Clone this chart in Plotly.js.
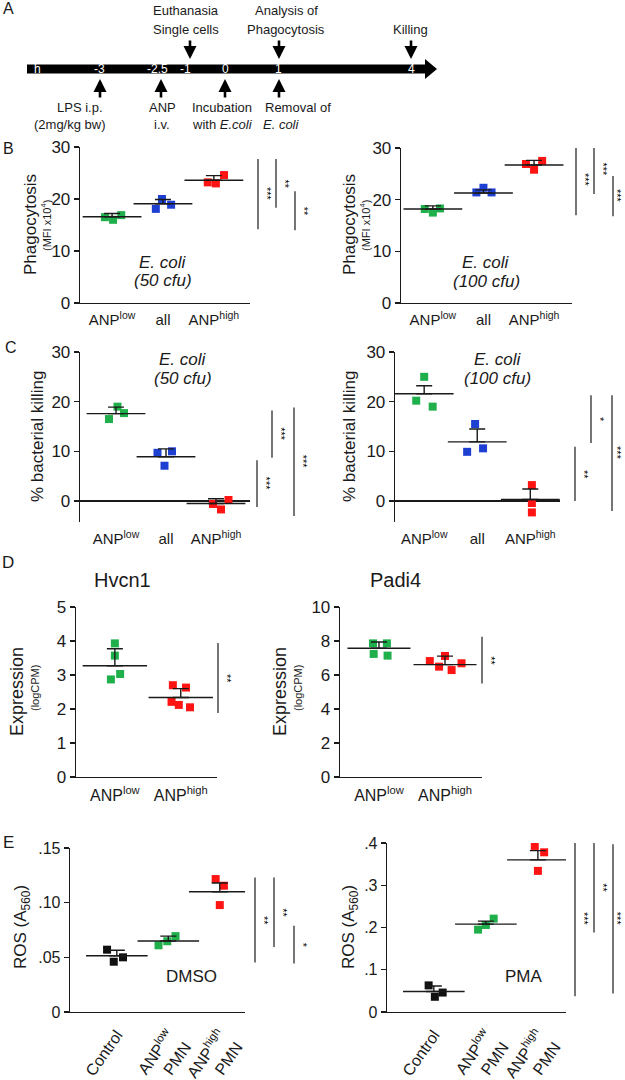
<!DOCTYPE html>
<html>
<head>
<meta charset="utf-8">
<script src="https://cdn.plot.ly/plotly-3.0.1.min.js"></script>
<style>
  html, body { margin: 0; padding: 0; background: #fff; }
  #fig { width: 625px; height: 1080px; }
</style>
</head>
<body>
<div id="fig"></div>
<script>
// ---------- data ----------
const catsB = ['ANP<sup>low</sup>', 'all', 'ANP<sup>high</sup>'];
const catsD = ['ANP<sup>low</sup>', 'ANP<sup>high</sup>'];
const catsE = ['Control', 'ANP<sup>low</sup><br>PMN', 'ANP<sup>high</sup><br>PMN'];

// B: phagocytosis (MFI x10^4)
const phago50     = [[16.5, 16.0, 16.9], [18.1, 20.0, 18.9], [23.2, 23.0, 24.6]];
const phago50Jit  = [[-0.14, 0.02, 0.18], [-0.14, -0.02, 0.16], [-0.12, 0.04, 0.2]];
const phago50Mean = [16.6, 19.1, 23.6];
const phago50Sem  = [0.6, 0.8, 0.9];

const phago100     = [[18.2, 17.5, 18.3], [21.4, 22.3, 21.4], [26.9, 25.8, 27.5]];
const phago100Jit  = [[-0.16, 0, 0.14], [-0.14, 0, 0.16], [-0.16, 0, 0.16]];
const phago100Mean = [18.2, 21.3, 26.7];
const phago100Sem  = [0.6, 0.6, 0.9];

// C: % bacterial killing
const kill50     = [[16.5, 19.0, 17.7], [9.7, 10.0, 7.1], [-0.6, -1.7, 0.2]];
const kill50Jit  = [[-0.14, 0.03, 0.16], [-0.17, 0.12, -0.03], [-0.06, 0.1, 0.25]];
const kill50Mean = [17.6, 8.9, -0.5];
const kill50Sem  = [1.3, 1.6, 0.95];

const kill100     = [[25.0, 20.2, 19.0], [15.5, 9.9, 10.6], [3.2, -0.4, -2.3]];
const kill100Jit  = [[0, -0.15, 0.16], [-0.04, -0.19, 0.11], [0.03, 0.03, 0.03]];
const kill100Mean = [21.6, 11.9, 0.3];
const kill100Sem  = [1.6, 2.6, 2.1];

// D: expression (logCPM)
const hvcn1     = [[3.93, 3.57, 3.03, 2.87], [2.70, 2.63, 2.21, 2.12, 2.05]];
const hvcn1Jit  = [[0, 0, 0.08, -0.06], [-0.12, 0.08, -0.14, -0.03, 0.14]];
const hvcn1Mean = [3.27, 2.34];
const hvcn1Sem  = [0.5, 0.26];

const padi4     = [[7.86, 7.86, 7.24, 7.14], [6.82, 6.49, 7.12, 6.29, 6.69]];
const padi4Jit  = [[-0.09, 0.12, -0.08, 0.13], [-0.23, -0.09, 0, 0.1, 0.25]];
const padi4Mean = [7.57, 6.61];
const padi4Sem  = [0.37, 0.5];

// E: ROS (A560)
const rosDmso     = [[0.057, 0.046, 0.050], [0.061, 0.0647, 0.0694], [0.1216, 0.1155, 0.0978]];
const rosDmsoJit  = [[-0.19, -0.06, 0.12], [-0.19, -0.02, 0.14], [-0.08, 0.08, 0]];
const rosDmsoMean = [0.0515, 0.065, 0.110];
const rosDmsoSem  = [0.005, 0.0044, 0.008];

const rosPma     = [[0.063, 0.036, 0.046], [0.195, 0.206, 0.221], [0.393, 0.378, 0.334]];
const rosPmaJit  = [[-0.1, 0.02, 0.17], [-0.15, 0, 0.15], [-0.06, 0.12, 0]];
const rosPmaMean = [0.0485, 0.208, 0.36];
const rosPmaSem  = [0.013, 0.007, 0.022];

// significance brackets: low end, high end, stars
const sigPhago50Lo  = [14.2, 18.3, 14.0],   sigPhago50Hi  = [27.7, 27.7, 21.5],  sigPhago50Txt  = ['***', '**', '**'];
const sigPhago100Lo = [17.0, 21.1, 16.8],   sigPhago100Hi = [30.6, 30.6, 24.6],  sigPhago100Txt = ['***', '***', '***'];
const sigKill50Lo   = [-1.2, 8.7, -3.0],    sigKill50Hi   = [8.2, 18.2, 18.8],   sigKill50Txt   = ['***', '***', '***'];
const sigKill100Lo  = [0, 11.7, -2.0],      sigKill100Hi  = [10.9, 21.3, 21.3],  sigKill100Txt  = ['**', '*', '***'];
const sigHvcn1Lo    = [1.88],               sigHvcn1Hi    = [3.94],              sigHvcn1Txt    = ['**'];
const sigPadi4Lo    = [5.5],                sigPadi4Hi    = [8.25],              sigPadi4Txt    = ['**'];
const sigDmsoLo     = [0.0453, 0.0594, 0.0444], sigDmsoHi = [0.123, 0.123, 0.0788], sigDmsoTxt = ['**', '**', '*'];
const sigPmaLo      = [0.037, 0.188, 0.044],    sigPmaHi  = [0.403, 0.403, 0.397],  sigPmaTxt  = ['***', '**', '***'];

// timeline (panel A)
const tlTicks  = ['h', '-3', '-2.5', '-1', '0', '1', '4'];
const tlAbove  = ['Euthanasia<br>Single cells', 'Analysis of<br>Phagocytosis', 'Killing'];
const tlBelow  = ['LPS i.p.<br>(2mg/kg bw)', 'ANP<br>i.v.', 'Incubation<br>with <i>E.coli</i>', 'Removal of<br><i>E. coli</i>'];

// ---------- helpers ----------
const W = 625, H = 1080;
const px = x => x / W;
const py = y => 1 - y / H;
const FONT = 'Liberation Sans, Arial, sans-serif';
const INK = '#1a1a1a';
const GREEN = '#1fb04b', BLUE = '#1d3fd2', RED = '#ff1414', BLACK = '#111111';

const traces = [];
const shapes = [];
const annotations = [];
const layout = {
  width: W, height: H,
  margin: { l: 0, r: 0, t: 0, b: 0 },
  paper_bgcolor: '#fff', plot_bgcolor: 'rgba(0,0,0,0)',
  font: { family: FONT, color: INK },
  showlegend: false,
  shapes, annotations,
};

function txt(text, x, y, size, extra) {
  annotations.push(Object.assign({
    text, x: px(x), y: py(y), xref: 'paper', yref: 'paper',
    xanchor: 'center', yanchor: 'middle',
    showarrow: false, font: { size, family: FONT, color: INK },
  }, extra || {}));
}

function panel(p) {
  const n = p.n;
  const xk = n === 1 ? 'xaxis' : 'xaxis' + n;
  const yk = n === 1 ? 'yaxis' : 'yaxis' + n;
  const xr = n === 1 ? 'x' : 'x' + n;
  const yr = n === 1 ? 'y' : 'y' + n;

  layout[xk] = {
    domain: [px(p.box[0]), px(p.box[1])], range: p.xrange, anchor: yr,
    tickvals: p.cats.map((c, i) => i), ticktext: p.cats,
    showline: !p.zeroAxis, linecolor: INK, linewidth: 1.3,
    ticks: 'outside', ticklen: p.xticklen || 3, tickcolor: 'rgba(0,0,0,0)',
    tickangle: p.tickangle || 0,
    tickfont: { size: p.xtfont || 15, family: FONT, color: INK },
    showgrid: false, zeroline: false, fixedrange: true,
  };
  layout[yk] = {
    domain: [py(p.box[3]), py(p.box[2])], range: p.yrange, anchor: xr,
    tickvals: p.ytickvals, ticktext: p.yticktext,
    showline: true, linecolor: INK, linewidth: 1.3,
    ticks: 'outside', ticklen: 5, tickwidth: 1.3, tickcolor: INK,
    tickfont: { size: p.ytfont || 17, family: FONT, color: INK },
    showgrid: false, fixedrange: true,
    zeroline: !!p.zeroAxis, zerolinecolor: INK, zerolinewidth: 1.3,
  };

  p.vals.forEach((vals, g) => {
    traces.push({
      type: 'scatter', mode: 'markers', xaxis: xr, yaxis: yr,
      x: p.jit[g].map(o => g + o), y: vals,
      marker: { symbol: 'square', size: 8, color: p.colors[g] },
      hoverinfo: 'y',
    });
  });
  traces.push({
    type: 'scatter', mode: 'markers', xaxis: xr, yaxis: yr,
    x: p.mean.map((m, i) => i), y: p.mean,
    marker: { symbol: 'line-ew', size: p.meanW || 42, color: INK, line: { color: INK, width: 1.4 } },
    error_y: { type: 'data', symmetric: false, array: p.sem, arrayminus: p.sem.map(() => 0),
               color: INK, thickness: 1.4, width: 8 },
    hoverinfo: 'y',
  });

  p.sigLo.forEach((lo, i) => {
    const sx = p.sigX[i];
    shapes.push({ type: 'line', xref: 'paper', yref: yr, x0: px(sx), x1: px(sx),
                  y0: lo, y1: p.sigHi[i], line: { color: INK, width: 1.2 } });
    annotations.push({ text: p.sigTxt[i], xref: 'paper', yref: yr,
                       x: px(Math.min(sx + 9, 617)), y: (lo + p.sigHi[i]) / 2, textangle: 90,
                       xanchor: 'center', yanchor: 'middle',
                       showarrow: false, font: { size: 11, family: FONT, color: '#000' } });
  });
}

// ---------- panel A: timeline ----------
const barL = 27, barR = 427, barY = 69;
shapes.push({ type: 'rect', layer: 'below', xref: 'paper', yref: 'paper', x0: px(barL), x1: px(barR),
              y0: py(barY + 4.5), y1: py(barY - 4.5), fillcolor: '#000', line: { width: 0 } });
shapes.push({ type: 'path', layer: 'below', xref: 'paper', yref: 'paper', fillcolor: '#000', line: { width: 0 },
              path: `M ${px(barR - 2)},${py(barY - 10)} L ${px(barR + 10)},${py(barY)} L ${px(barR - 2)},${py(barY + 10)} Z` });
const tlTickX = [37, 99, 157, 185, 225, 278, 411];
tlTicks.forEach((t, i) => txt(t, tlTickX[i], barY, 12, { font: { size: 12, family: FONT, color: '#ffffff' } }));

const tlAboveX = [190, 279, 411], tlAboveTextX = [186, 286, 410];
tlAbove.forEach((t, i) => {
  const lines = t.split('<br>');
  if (lines.length === 2) { txt(lines[0], tlAboveTextX[i], 10, 13); txt(lines[1], tlAboveTextX[i], 29, 13); }
  else txt(lines[0], tlAboveTextX[i], 29, 13);
  annotations.push({ text: '', xref: 'paper', yref: 'paper', x: px(tlAboveX[i]), y: py(59),
                     ax: 0, ay: -20, showarrow: true, arrowhead: 2, arrowsize: 1, arrowwidth: 2.6, arrowcolor: '#000' });
});
const tlBelowX = [100, 161, 225, 279];
const tlBelowTextX = [[80, 70], [162, 162], [222, 222], [298, 281]];
tlBelow.forEach((t, i) => {
  const lines = t.split('<br>');
  txt(lines[0], tlBelowTextX[i][0], 108, 13);
  txt(lines[1], tlBelowTextX[i][1], 124, 13);
  annotations.push({ text: '', xref: 'paper', yref: 'paper', x: px(tlBelowX[i]), y: py(79),
                     ax: 0, ay: 20, showarrow: true, arrowhead: 2, arrowsize: 1, arrowwidth: 2.6, arrowcolor: '#000' });
});

// ---------- panels B-E ----------
panel({ n: 1, box: [80, 250, 147, 303], xrange: [-0.63, 2.71], yrange: [0, 30],
        ytickvals: [0, 10, 20, 30], yticktext: ['0', '10', '20', '30'], cats: catsB,
        vals: phago50, jit: phago50Jit, mean: phago50Mean, sem: phago50Sem, colors: [GREEN, BLUE, RED],
        sigX: [258, 276, 295], sigLo: sigPhago50Lo, sigHi: sigPhago50Hi, sigTxt: sigPhago50Txt });
panel({ n: 2, box: [401, 572, 148, 303], xrange: [-0.63, 2.75], yrange: [0, 30],
        ytickvals: [0, 10, 20, 30], yticktext: ['0', '10', '20', '30'], cats: catsB,
        vals: phago100, jit: phago100Jit, mean: phago100Mean, sem: phago100Sem, colors: [GREEN, BLUE, RED],
        sigX: [576, 594, 613], sigLo: sigPhago100Lo, sigHi: sigPhago100Hi, sigTxt: sigPhago100Txt });
panel({ n: 3, box: [80, 250, 352, 522], xrange: [-0.72, 2.68], yrange: [-4.23, 30], zeroAxis: true,
        ytickvals: [0, 10, 20, 30], yticktext: ['0', '10', '20', '30'], cats: catsB,
        vals: kill50, jit: kill50Jit, mean: kill50Mean, sem: kill50Sem, colors: [GREEN, BLUE, RED],
        sigX: [257, 272, 294], sigLo: sigKill50Lo, sigHi: sigKill50Hi, sigTxt: sigKill50Txt });
panel({ n: 4, box: [395, 560, 352, 522], xrange: [-0.55, 2.56], yrange: [-4.23, 30], zeroAxis: true,
        ytickvals: [0, 10, 20, 30], yticktext: ['0', '10', '20', '30'], cats: catsB,
        vals: kill100, jit: kill100Jit, mean: kill100Mean, sem: kill100Sem, colors: [GREEN, BLUE, RED],
        sigX: [575, 591, 612], sigLo: sigKill100Lo, sigHi: sigKill100Hi, sigTxt: sigKill100Txt });
panel({ n: 5, box: [76, 217, 607, 777], xrange: [-0.59, 1.55], yrange: [0, 5], meanW: 46, xtfont: 16,
        ytickvals: [0, 1, 2, 3, 4, 5], yticktext: ['0', '1', '2', '3', '4', '5'], cats: catsD,
        vals: hvcn1, jit: hvcn1Jit, mean: hvcn1Mean, sem: hvcn1Sem, colors: [GREEN, RED],
        sigX: [218], sigLo: sigHvcn1Lo, sigHi: sigHvcn1Hi, sigTxt: sigHvcn1Txt });
panel({ n: 6, box: [340, 482, 607, 777], xrange: [-0.59, 1.56], yrange: [0, 10], meanW: 45, xtfont: 16,
        ytickvals: [0, 2, 4, 6, 8, 10], yticktext: ['0', '2', '4', '6', '8', '10'], cats: catsD,
        vals: padi4, jit: padi4Jit, mean: padi4Mean, sem: padi4Sem, colors: [GREEN, RED],
        sigX: [482], sigLo: sigPadi4Lo, sigHi: sigPadi4Hi, sigTxt: sigPadi4Txt });
panel({ n: 7, box: [70, 245, 848, 1012], xrange: [-0.91, 2.49], yrange: [0, 0.15], meanW: 44,
        tickangle: -55, xticklen: 6, ytfont: 16, xtfont: 16,
        ytickvals: [0, 0.05, 0.1, 0.15], yticktext: ['0', '.05', '.10', '.15'], cats: catsE,
        vals: rosDmso, jit: rosDmsoJit, mean: rosDmsoMean, sem: rosDmsoSem, colors: [BLACK, GREEN, RED],
        sigX: [255, 274, 294], sigLo: sigDmsoLo, sigHi: sigDmsoHi, sigTxt: sigDmsoTxt });
panel({ n: 8, box: [387, 566, 843, 1012], xrange: [-0.9, 2.54], yrange: [0, 0.4], meanW: 44,
        tickangle: -55, xticklen: 6, ytfont: 16, xtfont: 16,
        ytickvals: [0, 0.1, 0.2, 0.3, 0.4], yticktext: ['0', '.1', '.2', '.3', '.4'], cats: catsE,
        vals: rosPma, jit: rosPmaJit, mean: rosPmaMean, sem: rosPmaSem, colors: [BLACK, GREEN, RED],
        sigX: [575, 594, 613], sigLo: sigPmaLo, sigHi: sigPmaHi, sigTxt: sigPmaTxt });

// ---------- labels ----------
txt('A', 8, 8, 16); txt('B', 8, 148, 16); txt('C', 11, 348, 16); txt('D', 8, 562, 17); txt('E', 8, 842, 17);

const rot = { textangle: -90 };
txt('Phagocytosis', 30, 225, 17, rot); txt('(MFI x10<sup>4</sup>)', 46, 226, 11, rot);
txt('Phagocytosis', 349, 225, 17, rot); txt('(MFI x10<sup>4</sup>)', 365, 226, 11, rot);
txt('% bacterial killing', 37, 437, 17, rot);
txt('% bacterial killing', 349, 437, 17, rot);
txt('Expression', 17, 692, 18, rot); txt('(logCPM)', 35, 688, 11, rot);
txt('Expression', 280, 692, 18, rot); txt('(logCPM)', 298, 688, 11, rot);
txt('ROS (A<sub>560</sub>)', 22, 927, 17, rot);
txt('ROS (A<sub>560</sub>)', 350, 927, 17, rot);

txt('<i>E. coli</i>', 163, 262, 17); txt('<i>(50 cfu)</i>', 163, 280, 17);
txt('<i>E. coli</i>', 486, 263, 17); txt('<i>(100 cfu)</i>', 486, 281, 17);
txt('<i>E. coli</i>', 183, 360, 17); txt('<i>(50 cfu)</i>', 183, 378, 17);
txt('<i>E. coli</i>', 498, 360, 17); txt('<i>(100 cfu)</i>', 498, 378, 17);
txt('Hvcn1', 122, 580, 20); txt('Padi4', 395, 580, 20);
txt('DMSO', 192, 976, 17); txt('PMA', 524, 976, 17);

Plotly.newPlot('fig', traces, layout, { displayModeBar: false, staticPlot: true });
</script>
</body>
</html>
